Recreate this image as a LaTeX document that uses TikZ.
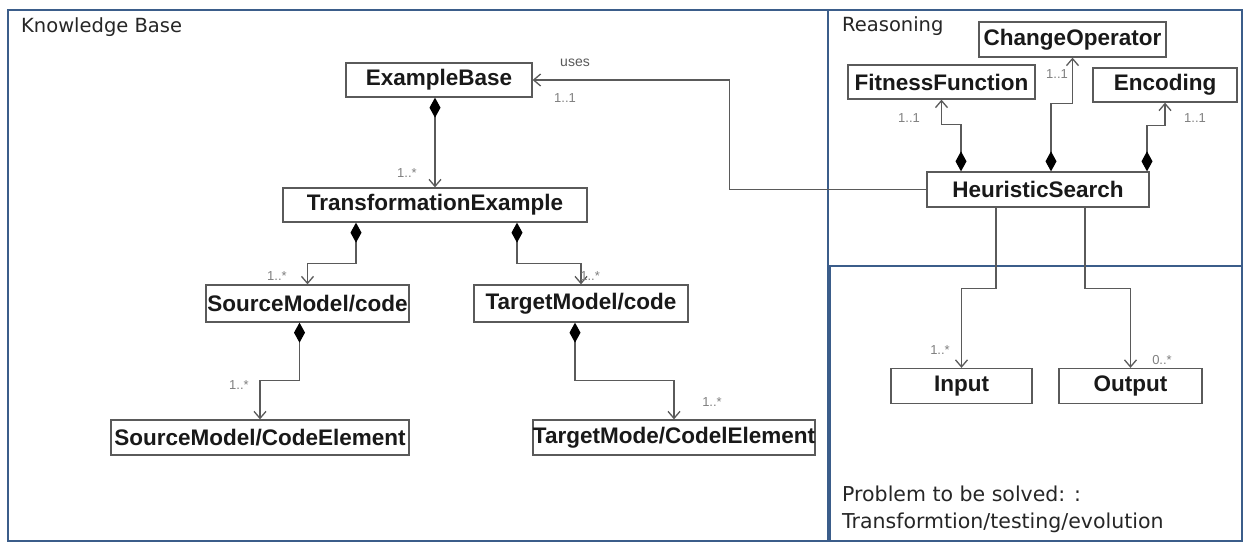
\documentclass[tikz,border=0pt]{standalone}
\usepackage{fontspec}
\setmainfont{Liberation Sans}
\newfontfamily\labelfont{DejaVu Sans}
\usetikzlibrary{arrows.meta}
\definecolor{framec}{HTML}{3B5D8A}
\definecolor{linec}{HTML}{5A5A5A}
\tikzset{
  cls/.style={draw=linec, line width=1.3pt, fill=white, inner sep=0pt,
    font=\fontsize{22.5}{25}\selectfont\bfseries, text=black!90},
  comp/.style={draw=linec, line width=1.3pt,
    {Diamond[length=20pt,width=11pt,fill=black,color=black]}-{Straight Barb[length=7pt,width=12pt,color=linec]}},
  assoc/.style={draw=linec, line width=1.3pt, -{Straight Barb[length=7pt,width=12pt,color=linec]}},
  mult/.style={font=\fontsize{13}{15}\selectfont, text=gray, inner sep=0pt},
  frame/.style={draw=framec, line width=2.6pt},
  flabel/.style={font=\labelfont\fontsize{19.5}{24}\selectfont, text=black!85, inner sep=0pt},
  plabel/.style={font=\labelfont\fontsize{20.5}{27}\selectfont, text=black!85, inner sep=0pt}
}
\begin{document}
\begin{tikzpicture}[x=1pt,y=-1pt]
\useasboundingbox (0,0) rectangle (1245,544);
\fill[white] (0,0) rectangle (1245,544);
% frames
\draw[frame] (8,10) rectangle (828,541);
\draw[frame] (828,10) rectangle (1242,266);
\draw[frame] (830,266) rectangle (1242,541);
\node[flabel, anchor=west] (kbl) at (21,27) {Knowledge Base};
\node[flabel, anchor=west] (rl) at (842,26) {Reasoning};
\node[plabel, anchor=north west, align=left] (pl) at (842,486) {Problem to be solved: :\\Transformtion/testing/evolution};
% classes
\node[cls, minimum width=186pt, minimum height=34pt] (eb) at (439,80) {ExampleBase};
\node[cls, minimum width=304pt, minimum height=34pt] (te) at (435,205) {TransformationExample};
\node[cls, minimum width=203pt, minimum height=37pt] (smc) at (307.5,303.5) {SourceModel/code};
\node[cls, minimum width=214pt, minimum height=37pt] (tmc) at (581,303.5) {TargetModel/code};
\node[cls, minimum width=298pt, minimum height=35pt] (smce) at (260,437.5) {SourceModel/CodeElement};
\node[cls, minimum width=274pt, minimum height=35pt] (tmce) at (674,437.5) {TargetMode/CodelElement};
\node[cls, minimum width=187pt, minimum height=35pt] (co) at (1072.5,39.5) {ChangeOperator};
\node[cls, minimum width=187pt, minimum height=34pt] (ff) at (941.5,82) {FitnessFunction};
\node[cls, minimum width=144pt, minimum height=34pt] (enc) at (1165,85) {Encoding};
\node[cls, minimum width=222pt, minimum height=35pt] (hs) at (1038,189.5) {HeuristicSearch};
\node[cls, minimum width=141pt, minimum height=35pt] (in) at (961.5,386) {Input};
\node[cls, minimum width=143pt, minimum height=35pt] (out) at (1130.5,386) {Output};
% connectors
\draw[comp] ([xshift=-4pt]eb.south) -- (te.north);
\draw[comp] ([xshift=-79pt]te.south) -- ++(0,41) -| (smc.north);
\draw[comp] ([xshift=82pt]te.south) -- ++(0,41) -| (tmc.north);
\draw[comp] ([xshift=-8pt]smc.south) -- ++(0,58) -| (smce.north);
\draw[comp] ([xshift=-6pt]tmc.south) -- ++(0,58) -| (tmce.north);
\draw[comp] ([xshift=-77pt]hs.north) -- ++(0,-47) -| (ff.south);
\draw[comp] ([xshift=13pt]hs.north) -- ++(0,-68) -| (co.south);
\draw[comp] ([xshift=109pt]hs.north) -- ++(0,-46) -| (enc.south);
\draw[assoc] ([xshift=-42pt]hs.south) -- ++(0,81) -| (in.north);
\draw[assoc] ([xshift=47pt]hs.south) -- ++(0,81) -| (out.north);
\draw[assoc] (hs.west) -- ++(-197,0) |- (eb.east);
% multiplicities
\node[mult, font=\fontsize{14}{16}\selectfont, text=black!65] (uses) at (575,63) {uses};
\node[mult] (m1) at (565,98) {1..1};
\node[mult] (m2) at (407,173) {1..*};
\node[mult] (m3) at (277,276) {1..*};
\node[mult, anchor=east] (m4) at (600,276) {1..*};
\node[mult] (m5) at (239,385) {1..*};
\node[mult] (m6) at (712,402) {1..*};
\node[mult] (m7) at (909,118) {1..1};
\node[mult] (m8) at (1057,74) {1..1};
\node[mult] (m9) at (1195,118) {1..1};
\node[mult] (m10) at (940,350) {1..*};
\node[mult] (m11) at (1162,360) {0..*};
\end{tikzpicture}
\end{document}
